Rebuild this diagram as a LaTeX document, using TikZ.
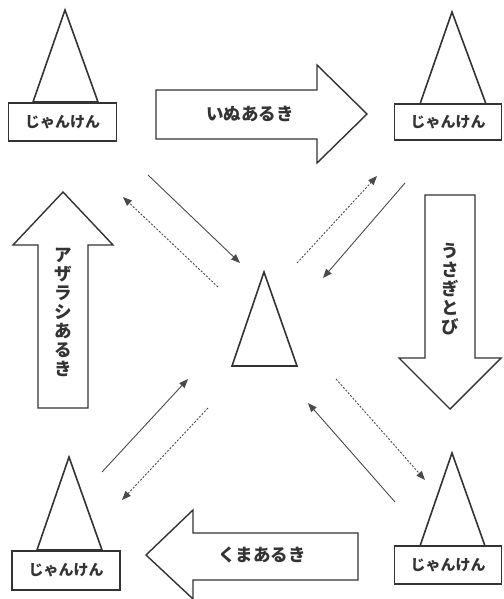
\documentclass[tikz,border=0pt]{standalone}
\usepackage{fontspec}
\newfontfamily\jpfont{Noto Sans CJK JP Black}
\usetikzlibrary{arrows.meta}
\definecolor{ink}{HTML}{333333}
\definecolor{lineg}{HTML}{4A4A4A}

\begin{document}
\begin{tikzpicture}[x=1pt, y=-1pt,
  cone/.style={draw=ink, line width=1.6pt, line join=miter},
  jkbox/.style={draw=ink, line width=1.4pt, fill=white, inner sep=0pt,
                minimum width=108pt, minimum height=38pt,
                font=\jpfont\fontsize{15}{15}\selectfont, text=ink},
  bigarrow/.style={draw=ink, line width=1.4pt, line join=miter},
  walk/.style={font=\jpfont\fontsize{17.5}{19}\selectfont, text=ink,
               align=center, inner sep=0pt},
  go/.style={-{Triangle[length=9pt,width=7pt]}, lineg, line width=0.9pt},
  back/.style={go, dash pattern=on 2pt off 1.6pt},
]
\useasboundingbox (0,0) rectangle (503,599);

% cones
\draw[cone] (65,10) -- (33,102) -- (98,102) -- cycle;
\draw[cone] (452,12) -- (420,104) -- (486,104) -- cycle;
\draw[cone] (264,272) -- (232,366) -- (297,366) -- cycle;
\draw[cone] (69,457) -- (37,550) -- (102,550) -- cycle;
\draw[cone] (452,453) -- (420,546) -- (485,546) -- cycle;

% janken boxes
\node[jkbox] (jkTL) at (62.5,122) {じゃんけん};
\node[jkbox, minimum width=107pt, minimum height=36pt] (jkTR) at (448,122) {じゃんけん};
\node[jkbox, minimum height=39pt] (jkBL) at (66,570.5) {じゃんけん};
\node[jkbox, minimum width=107pt] (jkBR) at (448,565) {じゃんけん};

% big arrows
\draw[bigarrow] (156,90) -- (317,90) -- (317,65) -- (367,114) -- (317,163)
  -- (317,139) -- (156,139) -- cycle;
\draw[bigarrow] (425,195) -- (475,195) -- (475,358) -- (501,358) -- (450,409)
  -- (399,358) -- (425,358) -- cycle;
\draw[bigarrow] (358,533) -- (193,533) -- (193,510) -- (146,555) -- (193,599)
  -- (193,580) -- (358,580) -- cycle;
\draw[bigarrow] (38,408) -- (38,245) -- (13,245) -- (63,192) -- (113,245)
  -- (88,245) -- (88,408) -- cycle;

\node[walk] (inu) at (250,114) {いぬあるき};
\node[walk] (usagi) at (450,289) {う\\さ\\ぎ\\と\\び};
\node[walk] (kuma) at (262,555) {くまあるき};
\node[walk] (azarashi) at (63,312) {ア\\ザ\\ラ\\シ\\あ\\る\\き};

% connector ends
\coordinate (tlA) at (148,175);
\coordinate (tlB) at (240,263);
\coordinate (tlC) at (218,287);
\coordinate (tlD) at (123,197);
\coordinate (trA) at (297,263);
\coordinate (trB) at (377,176);
\coordinate (trC) at (405,183);
\coordinate (trD) at (323,278);
\coordinate (blA) at (102,472);
\coordinate (blB) at (188,379);
\coordinate (blC) at (208,408);
\coordinate (blD) at (122,500);
\coordinate (brA) at (395,502);
\coordinate (brB) at (308,403);
\coordinate (brC) at (336,379);
\coordinate (brD) at (425,480);

\draw[go] (tlA) -- (tlB);
\draw[back] (tlC) -- (tlD);
\draw[back] (trA) -- (trB);
\draw[go] (trC) -- (trD);
\draw[go] (blA) -- (blB);
\draw[back] (blC) -- (blD);
\draw[go] (brA) -- (brB);
\draw[back] (brC) -- (brD);
\end{tikzpicture}
\end{document}
